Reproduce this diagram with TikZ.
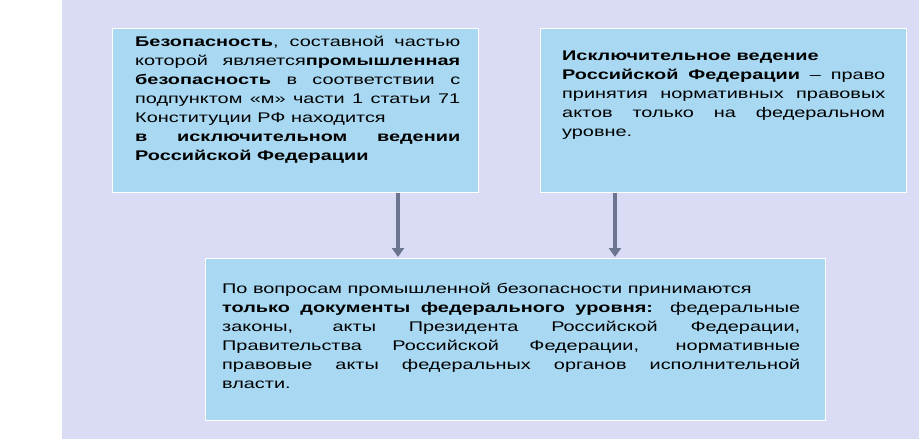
\documentclass[tikz,border=0pt]{standalone}
\usepackage{fontspec}
\setmainfont{Liberation Sans}[FakeStretch=1.42]
\usetikzlibrary{arrows.meta}
\begin{document}
\begin{tikzpicture}[x=1pt,y=-1pt,
  box/.style={fill=boxblue,draw=white,line width=1pt},
  txt/.style={anchor=north west,inner sep=0pt,font=\fontsize{14}{19}\selectfont,align=justify},
  arr/.style={draw=arrowline,line width=4.5pt,-{Triangle[length=9pt,width=12pt]},shorten >=1pt}]
\definecolor{bg}{HTML}{D9DCF4}
\definecolor{boxblue}{HTML}{A9D9F2}
\definecolor{arrowline}{HTML}{6C7590}
\useasboundingbox (0,0) rectangle (919,439);
\fill[bg] (62,0) rectangle (919,439);
\node[box,minimum width=366pt,minimum height=164pt,anchor=north west] (b1) at (112,28) {};
\node[box,minimum width=366pt,minimum height=164pt,anchor=north west] (b2) at (540,28) {};
\node[box,minimum width=620pt,minimum height=162pt,anchor=north west] (b3) at (205,258) {};
\node[txt,text width=325pt] (t1) at (135,36) {\textbf{Безопасность}, составной частью\linebreak
которой является\textbf{промышленная}\linebreak
\textbf{безопасность} в соответствии с\linebreak
подпунктом «м» части 1 статьи 71\linebreak
Конституции РФ находится\\
\textbf{в исключительном ведении}\linebreak
\textbf{Российской Федерации}};
\node[txt,text width=323pt] (t2) at (562,51) {\textbf{Исключительное ведение}\\
\textbf{Российской Федерации} – право\linebreak
принятия нормативных правовых\linebreak
актов только на федеральном\linebreak
уровне.};
\node[txt,text width=578pt] (t3) at (222,283) {По вопросам промышленной безопасности принимаются\\
\textbf{только документы федерального уровня:} федеральные\linebreak
законы, акты Президента Российской Федерации,\linebreak
Правительства Российской Федерации, нормативные\linebreak
правовые акты федеральных органов исполнительной\linebreak
власти.};
\coordinate (a1) at ([xshift=286pt]b1.south west);
\coordinate (a2) at ([xshift=75pt]b2.south west);
\draw[arr] (a1) -- (a1 |- b3.north);
\draw[arr] (a2) -- (a2 |- b3.north);
\end{tikzpicture}
\end{document}
